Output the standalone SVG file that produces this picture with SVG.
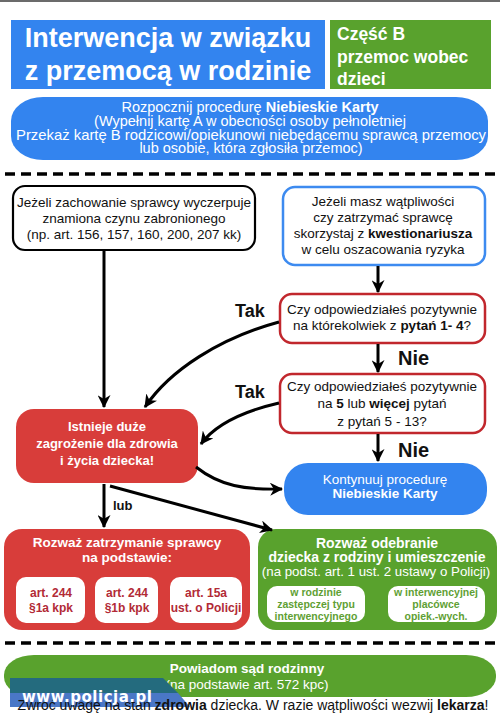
<svg xmlns="http://www.w3.org/2000/svg" width="500" height="717" viewBox="0 0 500 717">
<style>
text{font-family:"Liberation Sans",Arial,sans-serif;}
.w{fill:#fff;}
.b{font-weight:bold;}
.c{text-anchor:middle;}
.t{font-size:13.5px;fill:#111;}
.lbl{font-weight:bold;fill:#111;}
.conn{fill:none;stroke:#000;stroke-width:3;}
.dash{stroke:#000;stroke-width:3.5;stroke-dasharray:10,6;}
.inr{fill:#fff;}
.rt{font-size:12px;font-weight:bold;fill:#b22a36;text-anchor:middle;}
.gt{font-size:10.5px;font-weight:bold;fill:#5f9f34;text-anchor:middle;}
</style>
<defs>
<marker id="ah" viewBox="0 0 12 12" refX="11" refY="6" markerWidth="13" markerHeight="13" markerUnits="userSpaceOnUse" orient="auto">
<path d="M0,0 L12,6 L0,12 L3.5,6 Z" fill="#000"/>
</marker>
</defs>
<rect x="0" y="0" width="500" height="717" fill="#fff"/>
<rect x="0" y="0" width="500" height="2" fill="#6b6b6b"/>

<g id="title">
<rect x="11" y="20" width="314" height="69" fill="#3384ef"/>
<text class="w b c" x="168" y="47" font-size="27">Interwencja w związku</text>
<text class="w b c" x="168" y="80" font-size="27">z przemocą w rodzinie</text>
</g>
<g id="part">
<rect x="330" y="20" width="161" height="69" fill="#59a22d"/>
<text class="w b" x="337" y="40" font-size="17.5">Część B</text>
<text class="w b" x="337" y="63" font-size="17.5">przemoc wobec</text>
<text class="w b" x="337" y="85" font-size="17.5">dzieci</text>
</g>
<g id="start">
<rect x="11" y="97" width="477" height="63" rx="32" ry="24" fill="#3384ef"/>
<text class="w c" x="250" y="111.5" font-size="14.5">Rozpocznij procedurę <tspan class="b">Niebieskie Karty</tspan></text>
<text class="w c" x="250" y="125.5" font-size="14.5">(Wypełnij kartę A w obecności osoby pełnoletniej</text>
<text class="w c" x="251" y="139.5" font-size="14.5" textLength="470" lengthAdjust="spacingAndGlyphs">Przekaż kartę B rodzicowi/opiekunowi niebędącemu sprawcą przemocy</text>
<text class="w c" x="251" y="153" font-size="14.5">lub osobie, która zgłosiła przemoc)</text>
</g>
<line class="dash" x1="5" y1="174" x2="497" y2="174"/>

<g id="crime">
<rect x="13" y="186" width="242" height="64" rx="12" fill="#fff" stroke="#000" stroke-width="2.2"/>
<text class="t c" x="134" y="207">Jeżeli zachowanie sprawcy wyczerpuje</text>
<text class="t c" x="134" y="223">znamiona czynu zabronionego</text>
<text class="t c" x="134" y="239">(np. art. 156, 157, 160, 200, 207 kk)</text>
</g>
<g id="doubt">
<rect x="283" y="187" width="202" height="78" rx="12" fill="#fff" stroke="#3d8bf0" stroke-width="2.5"/>
<text class="t c" x="383" y="206">Jeżeli masz wątpliwości</text>
<text class="t c" x="383" y="222">czy zatrzymać sprawcę</text>
<text class="t c" x="383" y="238">skorzystaj z <tspan class="b">kwestionariusza</tspan></text>
<text class="t c" x="383" y="254">w celu oszacowania ryzyka</text>
</g>
<g id="q1">
<rect x="280" y="294" width="205" height="49" rx="12" fill="#fff" stroke="#c1272d" stroke-width="2.5"/>
<text class="t c" x="382" y="314">Czy odpowiedziałeś pozytywnie</text>
<text class="t c" x="382" y="330">na którekolwiek z <tspan class="b">pytań 1- 4</tspan>?</text>
</g>
<g id="q2">
<rect x="280" y="374" width="205" height="59" rx="12" fill="#fff" stroke="#c1272d" stroke-width="2.5"/>
<text class="t c" x="382" y="391">Czy odpowiedziałeś pozytywnie</text>
<text class="t c" x="382" y="408">na <tspan class="b">5</tspan> lub <tspan class="b">więcej</tspan> pytań</text>
<text class="t c" x="382" y="426">z pytań 5 - 13?</text>
</g>
<g id="danger">
<rect x="16" y="409" width="182" height="74" rx="18" fill="#d83d3a"/>
<text class="w b c" x="107" y="431" font-size="13">Istnieje duże</text>
<text class="w b c" x="107" y="448" font-size="13">zagrożenie dla zdrowia</text>
<text class="w b c" x="107" y="465" font-size="13">i życia dziecka!</text>
</g>
<g id="continue">
<rect x="284" y="463" width="203" height="52" rx="24" fill="#3384ef"/>
<text class="w c" x="385" y="484" font-size="13.5">Kontynuuj  procedurę</text>
<text class="w b c" x="385" y="498" font-size="13.5">Niebieskie Karty</text>
</g>
<g id="detain">
<rect x="4" y="529" width="246" height="101" rx="18" fill="#d83d3a"/>
<text class="w b c" x="127" y="547" font-size="13.5">Rozważ zatrzymanie sprawcy</text>
<text class="w b c" x="127" y="562" font-size="13.5">na podstawie:</text>
<rect class="inr" x="16" y="577" width="69" height="46" rx="10"/>
<text class="rt" x="51" y="597">art. 244</text>
<text class="rt" x="51" y="612">§1a kpk</text>
<rect class="inr" x="95" y="577" width="63" height="46" rx="10"/>
<text class="rt" x="127" y="597">art. 244</text>
<text class="rt" x="127" y="612">§1b kpk</text>
<rect class="inr" x="170" y="577" width="72" height="46" rx="10"/>
<text class="rt" x="206" y="597">art. 15a</text>
<text class="rt" x="206" y="612">ust. o Policji</text>
</g>
<g id="remove">
<rect x="258" y="529" width="239" height="101" rx="18" fill="#59a22d"/>
<text class="w b c" x="377" y="548" font-size="14">Rozważ odebranie</text>
<text class="w b c" x="377" y="562" font-size="14">dziecka z rodziny i umieszczenie</text>
<text class="w c" x="376" y="576" font-size="13.3">(na podst. art. 1 ust. 2 ustawy o Policji)</text>
<rect class="inr" x="267" y="586" width="98" height="36" rx="10"/>
<text class="gt" x="316" y="596">w rodzinie</text>
<text class="gt" x="316" y="608">zastępczej typu</text>
<text class="gt" x="316" y="620">interwencyjnego</text>
<rect class="inr" x="388" y="586" width="97" height="36" rx="10"/>
<text class="gt" x="436" y="596">w interwencyjnej</text>
<text class="gt" x="436" y="608">placówce</text>
<text class="gt" x="436" y="620">opiek.-wych.</text>
</g>
<line class="dash" x1="5" y1="643" x2="497" y2="643"/>
<g id="court">
<rect x="4" y="655" width="492" height="42" rx="30" ry="20" fill="#59a22d"/>
<text class="w b c" x="247" y="673" font-size="13.5">Powiadom sąd rodzinny</text>
<text class="w c" x="247" y="689" font-size="13.5">(na podstawie art. 572 kpc)</text>
</g>
<g id="watermark">
<polygon points="10,678 163,678 178,693 10,693" fill="#246b7e"/>
<polygon points="10,693 178,693 190,707 10,707" fill="#4a77c6"/>
</g>
<text class="c" x="253" y="710" font-size="14" fill="#111">Zwróć uwagę na stan <tspan class="b">zdrowia</tspan> dziecka. W razie wątpliwości wezwij <tspan class="b">lekarza</tspan>!</text>
<text x="22" y="702" font-size="15" font-weight="bold" fill="#fff" style="font-family:'DejaVu Sans',Verdana,sans-serif;letter-spacing:0.5px">www.policja.pl</text>

<g id="connectors">
<line class="conn" x1="104" y1="251" x2="104" y2="407" marker-end="url(#ah)"/>
<line class="conn" x1="378" y1="266" x2="378" y2="292" marker-end="url(#ah)"/>
<path class="conn" d="M279,322 C220,338 170,370 145,407" marker-end="url(#ah)"/>
<line class="conn" x1="378" y1="344" x2="378" y2="372" marker-end="url(#ah)"/>
<path class="conn" d="M279,403 C240,412 215,425 201,444" marker-end="url(#ah)"/>
<line class="conn" x1="378" y1="434" x2="378" y2="461" marker-end="url(#ah)"/>
<path class="conn" d="M196,467 C220,486 245,490 282,489" marker-end="url(#ah)"/>
<line class="conn" x1="104" y1="484" x2="104" y2="527" marker-end="url(#ah)"/>
<line class="conn" x1="110" y1="486" x2="272" y2="530" marker-end="url(#ah)"/>
<text class="lbl" x="235" y="317" font-size="18">Tak</text>
<text class="lbl" x="235" y="398" font-size="18">Tak</text>
<text class="lbl" x="398" y="365" font-size="20">Nie</text>
<text class="lbl" x="398" y="457" font-size="20">Nie</text>
<text class="lbl" x="113" y="510" font-size="13">lub</text>
</g>
</svg>
